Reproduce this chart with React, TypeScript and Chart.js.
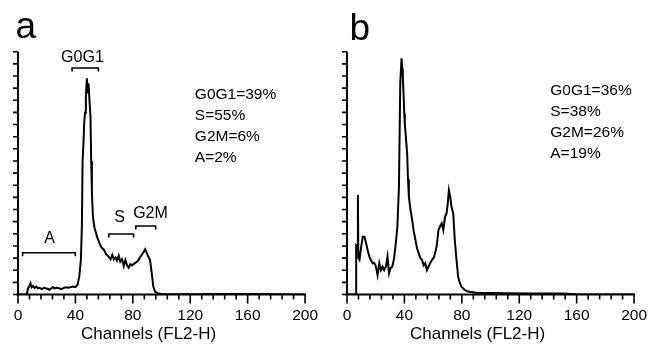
import React, { useEffect, useRef } from "react";
import { Chart, registerables } from "chart.js";

Chart.register(...registerables);

// ---------- data ----------
const xTickLabels = [0, 40, 80, 120, 160, 200];
const xTitle = "Channels (FL2-H)";

const aChannels = [0, 6, 7, 8, 8.7, 9.5, 10.5, 11.5, 12.8, 14, 15.1, 16.5, 18, 19.7, 21, 22, 23, 24.3, 25.5, 27, 28.9, 30.5, 32, 33.5, 35, 36.5, 38.1, 40, 41.5, 42.7, 43.8, 44.5, 45, 45.7, 46.1, 46.7, 47.3, 48, 48.4, 48.7, 49.1, 49.8, 50.5, 51, 51.5, 52.2, 53.3, 54.5, 55.5, 56.5, 58, 59.9, 61.5, 63.3, 64.5, 65.7, 66.8, 68, 69, 70.2, 71.3, 72.5, 73.7, 74.8, 76, 77.1, 78.3, 79.4, 80.5, 81.7, 83, 84, 85.2, 86.3, 87.5, 88.6, 89.7, 90.9, 92, 93.2, 94.3, 95.5, 97.8, 100, 120, 150, 165, 180, 200];
const aCounts = [0, 0, 5, 7, 9.2, 6, 7, 5.5, 6.5, 5, 5.5, 4.5, 5.5, 5, 4.5, 3.9, 5, 6, 5, 5.5, 5, 4.5, 5.5, 6, 5.5, 6, 6.6, 6, 8, 14.7, 28.4, 56, 110, 127, 141, 150, 163, 178, 170, 165.7, 174, 160, 146, 110, 84, 64, 55, 50, 46, 43, 39, 36.7, 33, 31, 29, 32.6, 29, 30.5, 28, 32, 27, 29, 23.5, 28.4, 24, 22, 25, 24, 25, 26, 27, 28.4, 31, 33, 35, 37.3, 34, 31, 28.4, 17.4, 6.4, 2.3, 0.9, 0.5, 0.3, 0.5, 0.4, 0.2, 0];

const bChannels = [0, 6.3, 6.4, 7.3, 7.6, 7.9, 8.7, 9.9, 11, 12.2, 13.3, 14.5, 15.6, 16.8, 17.9, 19, 20.2, 21.3, 22.5, 23.6, 24.8, 25.9, 27.1, 28.2, 29.3, 30.5, 31.6, 32.8, 34, 35.1, 36.2, 37.1, 38, 38.5, 38.9, 39.4, 39.9, 40.3, 40.8, 41.9, 42.5, 43.1, 44.2, 45.4, 46.5, 47.7, 48.8, 50, 51.1, 52.3, 53.4, 54.5, 55.7, 56.8, 58, 59.1, 60.3, 61.4, 62.5, 63.7, 64.8, 66, 67.1, 68.3, 69.4, 70.2, 71, 71.9, 72.8, 74, 75.1, 76.3, 77.4, 78.5, 79.7, 82, 84.3, 90, 100, 110, 130, 150, 160, 200];
const bCounts = [0, 0, 40.8, 40, 82, 30, 28.4, 39.4, 47.6, 47.6, 42.2, 36, 31.2, 28, 25.7, 26, 22.9, 16, 25.7, 20, 22.9, 20, 22.9, 31.2, 17.4, 22, 22.9, 30, 42.2, 55.8, 88.8, 174, 194.5, 186, 179, 165, 149, 140, 133, 116, 95, 80.6, 70, 61.4, 52, 44.9, 38, 33.9, 30, 28.4, 24, 25.7, 20, 22.9, 26, 28.4, 30, 33.9, 40, 53, 56, 58.6, 53, 64, 66.9, 75, 86, 80.6, 72.3, 66.9, 44.9, 28.4, 14.7, 10, 6.4, 3.7, 2.4, 1.5, 1.2, 1, 0.8, 0.8, 0.3, 0];

const aStats = ["G0G1=39%", "S=55%", "G2M=6%", "A=2%"];
const bStats = ["G0G1=36%", "S=38%", "G2M=26%", "A=19%"];

// phase brackets of panel a (channel ranges and count levels)
const aPhaseNames = ["A", "S", "G2M", "G0G1"];
const aPhaseFrom = [3.2, 63.3, 82.1, 37.7];
const aPhaseTo = [39.9, 80.5, 95.9, 56];
const aPhaseLevel = [34.4, 49.8, 56.4, 186.6];
const aPhaseLabelX = [22, 70.8, 92.3, 44.9];
const aPhaseLabelY = [46.3, 63.4, 66.9, 195];

// ---------- style ----------
const INK = "#000";
const FONT = "'Liberation Sans', Arial, Helvetica, sans-serif";
const CW = 330;
const CH = 344;

type PanelDef = {
  letter: string;
  letterX: number;
  letterY: number;
  left: number;
  channels: number[];
  counts: number[];
  stats: string[];
  statX: number;
  statY: number;
  phases?: boolean;
};

const panels: PanelDef[] = [
  { letter: "a", letterX: 15.5, letterY: 37.5, left: 0, channels: aChannels, counts: aCounts, stats: aStats, statX: 123.2, statY: 164.7, phases: true },
  { letter: "b", letterX: 20.5, letterY: 40, left: 329, channels: bChannels, counts: bCounts, stats: bStats, statX: 141.6, statY: 167.6 },
];

function makePlugin(p: PanelDef) {
  return {
    id: "histDecor" + p.letter,
    afterDraw(chart: any) {
      const { ctx } = chart;
      const x = chart.scales.x;
      const y = chart.scales.y;
      ctx.save();
      ctx.strokeStyle = INK;
      ctx.fillStyle = INK;
      // axes
      ctx.lineWidth = 2;
      ctx.beginPath();
      ctx.moveTo(x.left - 1.5, y.bottom);
      ctx.lineTo(x.right + 1, y.bottom);
      ctx.moveTo(x.left, y.bottom);
      ctx.lineTo(x.left, y.top);
      ctx.stroke();
      // x ticks
      ctx.lineWidth = 1.6;
      ctx.beginPath();
      x.ticks.forEach((t: any) => {
        const px = x.getPixelForValue(t.value);
        const major = xTickLabels.includes(t.value);
        ctx.moveTo(px, y.bottom);
        ctx.lineTo(px, y.bottom + (major ? 9 : 5));
      });
      // y ticks
      y.ticks.forEach((t: any) => {
        const py = y.getPixelForValue(t.value);
        ctx.moveTo(x.left, py);
        ctx.lineTo(x.left - 5, py);
      });
      ctx.stroke();

      // panel letter
      ctx.font = `37px ${FONT}`;
      ctx.textAlign = "left";
      ctx.textBaseline = "alphabetic";
      ctx.fillText(p.letter, p.letterX, p.letterY);

      // axis title
      ctx.font = `17px ${FONT}`;
      ctx.textAlign = "center";
      ctx.fillText(xTitle, x.getPixelForValue(91), y.bottom + 44.5);

      // stats
      ctx.font = `15.5px ${FONT}`;
      ctx.textAlign = "left";
      ctx.textBaseline = "middle";
      const sx = x.getPixelForValue(p.statX);
      const sy = y.getPixelForValue(p.statY);
      p.stats.forEach((s, i) => ctx.fillText(s, sx, sy + i * 21));

      // phase brackets
      if (p.phases) {
        ctx.lineWidth = 1.6;
        ctx.font = `16px ${FONT}`;
        ctx.textAlign = "center";
        ctx.textBaseline = "middle";
        aPhaseNames.forEach((name, i) => {
          const x1 = x.getPixelForValue(aPhaseFrom[i]);
          const x2 = x.getPixelForValue(aPhaseTo[i]);
          const py = y.getPixelForValue(aPhaseLevel[i]);
          ctx.beginPath();
          ctx.moveTo(x1, py + 3.5);
          ctx.lineTo(x1, py);
          ctx.lineTo(x2, py);
          ctx.lineTo(x2, py + 3.5);
          ctx.stroke();
          ctx.fillText(name, x.getPixelForValue(aPhaseLabelX[i]), y.getPixelForValue(aPhaseLabelY[i]));
        });
      }
      ctx.restore();
    },
  };
}

function Panel({ p }: { p: PanelDef }) {
  const ref = useRef<HTMLCanvasElement>(null);
  useEffect(() => {
    if (!ref.current) return;
    const pts = p.channels.map((c, i) => ({ x: c, y: p.counts[i] }));
    const chart = new Chart(ref.current, {
      type: "line",
      data: {
        datasets: [
          {
            data: pts,
            borderColor: INK,
            borderWidth: 2,
            pointRadius: 0,
            tension: 0,
            fill: false,
          },
        ],
      },
      options: {
        responsive: false,
        animation: false,
        devicePixelRatio: 1,
        layout: { padding: { top: 51.7, right: CW - 308.5, left: 0, bottom: 0 } },
        plugins: { legend: { display: false }, tooltip: { enabled: false } },
        scales: {
          x: {
            type: "linear",
            min: 0,
            max: 200,
            grid: { display: false, drawTicks: false },
            border: { display: false },
            ticks: {
              stepSize: 8,
              autoSkip: false,
              maxRotation: 0,
              padding: 12,
              color: INK,
              font: { family: FONT, size: 15.5 },
              callback: (v: any) => (xTickLabels.includes(Number(v)) ? String(v) : ""),
            },
            afterFit: (s: any) => {
              s.height = CH - 294.5;
            },
          },
          y: {
            min: 0,
            max: 200,
            grid: { display: false, drawTicks: false },
            border: { display: false },
            ticks: { display: false, stepSize: 10 },
            afterFit: (s: any) => {
              s.width = 18;
            },
          },
        },
      },
      plugins: [makePlugin(p)],
    } as any);
    return () => chart.destroy();
  }, [p]);
  return (
    <canvas
      ref={ref}
      width={CW}
      height={CH}
      style={{ position: "absolute", left: p.left, top: 0, width: CW, height: CH }}
    />
  );
}

export default function App() {
  return (
    <div
      style={{
        position: "fixed",
        left: 0,
        top: 0,
        width: 649,
        height: 344,
        overflow: "hidden",
        background: "#fff",
      }}
    >
      {panels.map((p) => (
        <Panel key={p.letter} p={p} />
      ))}
    </div>
  );
}
